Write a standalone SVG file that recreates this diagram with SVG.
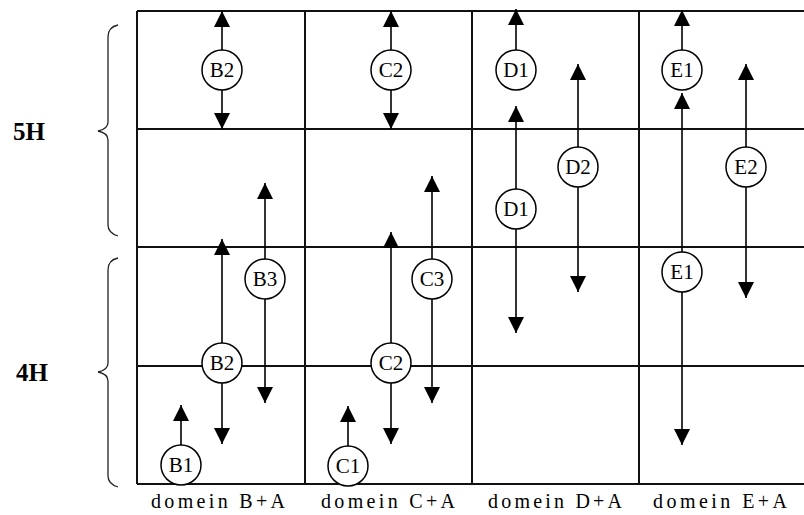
<svg xmlns="http://www.w3.org/2000/svg" width="804" height="515" viewBox="0 0 804 515">
<style>
.grid{stroke:#111;stroke-width:2;fill:none}
.brace{stroke:#222;stroke-width:1.3;fill:none}
.arr{stroke:#000;stroke-width:1.6;fill:none;marker-end:url(#ah)}
.node circle{fill:#fff;stroke:#000;stroke-width:1.5}
.node text{font-family:"Liberation Serif","Times New Roman",serif;font-size:21px;text-anchor:middle;fill:#000}
.lbl{font-family:"Liberation Serif","Times New Roman",serif;font-size:20px;text-anchor:middle;fill:#000}
.side{font-family:"Liberation Serif","Times New Roman",serif;font-size:25px;font-weight:bold;fill:#000}
</style>
<defs>
<marker id="ah" viewBox="0 0 16 16" refX="16" refY="8" markerWidth="16" markerHeight="17" markerUnits="userSpaceOnUse" orient="auto">
<path d="M0,0 L16,8 L0,16 z" fill="#000"/>
</marker>
</defs>
<rect width="804" height="515" fill="#fff"/>
<g id="grid" class="grid">
<line x1="137" y1="11" x2="804" y2="11"/>
<line x1="137" y1="129" x2="804" y2="129"/>
<line x1="137" y1="247" x2="804" y2="247"/>
<line x1="137" y1="366" x2="804" y2="366"/>
<line x1="137" y1="484" x2="804" y2="484"/>
<line x1="137" y1="11" x2="137" y2="484"/>
<line x1="305" y1="11" x2="305" y2="484"/>
<line x1="472" y1="11" x2="472" y2="484"/>
<line x1="639" y1="11" x2="639" y2="484"/>
</g>
<g id="braces" class="brace">
<path d="M118,25 Q108,27 108,37 L108,122 Q108,129 98,131 Q108,133 108,140 L108,225 Q108,233 118,236"/>
<path d="M118,258 Q108,260 108,270 L108,363 Q108,370 98,372 Q108,374 108,381 L108,476 Q108,484 118,487"/>
</g>
<g id="side-labels">
<text class="side" x="13" y="140">5H</text>
<text class="side" x="16" y="381">4H</text>
</g>
<g id="connectors">
<line class="arr" x1="222" y1="50" x2="222" y2="11"/>
<line class="arr" x1="222" y1="90" x2="222" y2="129"/>
<line class="arr" x1="265" y1="259" x2="265" y2="183"/>
<line class="arr" x1="265" y1="299" x2="265" y2="403"/>
<line class="arr" x1="222" y1="343" x2="222" y2="239"/>
<line class="arr" x1="222" y1="383" x2="222" y2="444"/>
<line class="arr" x1="181" y1="445" x2="181" y2="405"/>
<line class="arr" x1="391" y1="50" x2="391" y2="11"/>
<line class="arr" x1="391" y1="90" x2="391" y2="129"/>
<line class="arr" x1="432" y1="259" x2="432" y2="176"/>
<line class="arr" x1="432" y1="299" x2="432" y2="403"/>
<line class="arr" x1="391" y1="343" x2="391" y2="232"/>
<line class="arr" x1="391" y1="383" x2="391" y2="444"/>
<line class="arr" x1="348" y1="446" x2="348" y2="406"/>
<line class="arr" x1="516" y1="50" x2="516" y2="9"/>
<line class="arr" x1="516" y1="189" x2="516" y2="106"/>
<line class="arr" x1="516" y1="229" x2="516" y2="333"/>
<line class="arr" x1="578" y1="147" x2="578" y2="64"/>
<line class="arr" x1="578" y1="187" x2="578" y2="292"/>
<line class="arr" x1="682" y1="50" x2="682" y2="10"/>
<line class="arr" x1="682" y1="252" x2="682" y2="93"/>
<line class="arr" x1="682" y1="292" x2="682" y2="445"/>
<line class="arr" x1="746" y1="147" x2="746" y2="64"/>
<line class="arr" x1="746" y1="187" x2="746" y2="298"/>
</g>
<g id="B2-top" class="node"><circle cx="222" cy="70" r="20"/><text x="222" y="77">B2</text></g>
<g id="B3" class="node"><circle cx="265" cy="279" r="20"/><text x="265" y="286">B3</text></g>
<g id="B2-low" class="node"><circle cx="222" cy="363" r="20"/><text x="222" y="370">B2</text></g>
<g id="B1" class="node"><circle cx="181" cy="465" r="20"/><text x="181" y="472">B1</text></g>
<g id="C2-top" class="node"><circle cx="391" cy="70" r="20"/><text x="391" y="77">C2</text></g>
<g id="C3" class="node"><circle cx="432" cy="279" r="20"/><text x="432" y="286">C3</text></g>
<g id="C2-low" class="node"><circle cx="391" cy="363" r="20"/><text x="391" y="370">C2</text></g>
<g id="C1" class="node"><circle cx="348" cy="466" r="20"/><text x="348" y="473">C1</text></g>
<g id="D1-top" class="node"><circle cx="516" cy="70" r="20"/><text x="516" y="77">D1</text></g>
<g id="D1-low" class="node"><circle cx="516" cy="209" r="20"/><text x="516" y="216">D1</text></g>
<g id="D2" class="node"><circle cx="578" cy="167" r="20"/><text x="578" y="174">D2</text></g>
<g id="E1-top" class="node"><circle cx="682" cy="70" r="20"/><text x="682" y="77">E1</text></g>
<g id="E1-low" class="node"><circle cx="682" cy="272" r="20"/><text x="682" y="279">E1</text></g>
<g id="E2" class="node"><circle cx="746" cy="167" r="20"/><text x="746" y="174">E2</text></g>
<g id="domain-labels">
<text class="lbl" x="218" y="508" textLength="134" lengthAdjust="spacing">domein B+A</text>
<text class="lbl" x="388" y="508" textLength="134" lengthAdjust="spacing">domein C+A</text>
<text class="lbl" x="555" y="508" textLength="134" lengthAdjust="spacing">domein D+A</text>
<text class="lbl" x="720" y="508" textLength="134" lengthAdjust="spacing">domein E+A</text>
</g>
</svg>
